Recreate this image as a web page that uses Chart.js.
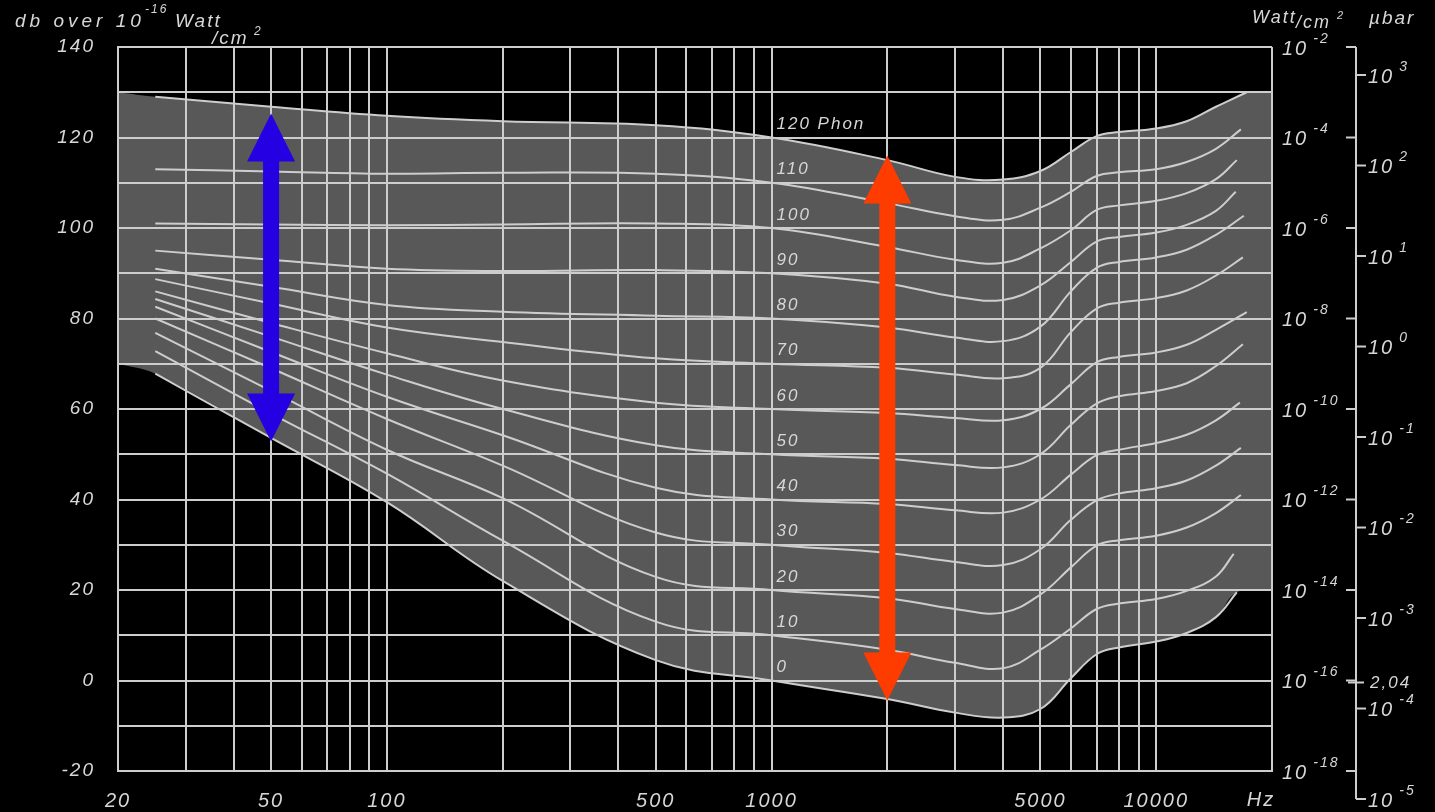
<!DOCTYPE html>
<html>
<head>
<meta charset="utf-8">
<script src="https://cdn.jsdelivr.net/npm/chart.js@4.4.0/dist/chart.umd.min.js"></script>
<style>
html,body{margin:0;padding:0;background:#000;overflow:hidden}
canvas{display:block}
</style>
</head>
<body>
<canvas id="phon_chart" width="1435" height="812"></canvas>
<script>
// loudness levels (phon) and the frequencies every curve was read at
const phons = [120,110,100,90,80,70,60,50,40,30,20,10,0];
const phonLabels = ['120 Phon','110','100','90','80','70','60','50','40','30','20','10','0'];
const freqs = [25,50,100,200,500,1000,2000,3000,4000,5000,6000,7000,8000,10000,12000,14300];

// sound level (dB) of each curve at the frequencies above
const phon120 = [129,126.8,124.8,123.6,122.7,120,115,111.3,110.7,112.6,116.8,120.3,121.2,122,123.6,126.8];
const phon110 = [113,112.5,112,112.2,112,110,105.5,102.6,101.8,104.5,108,111.5,112.3,113,114.6,117.5];
const phon100 = [101,100.8,100.6,100.8,101,100,95.8,93,92.3,95.5,99.5,104,105,106,107.7,110.8];
const phon90  = [95,93,91,90.5,90.7,90,87.7,84.8,84.1,87.3,92.5,97,98,99,100.7,103.8];
const phon80  = [91,87,83,81.5,80.6,80,78,75.8,75,78.2,86,91.2,92.5,93.5,95.2,98.5];
const phon70  = [88.7,83.3,78,74.8,71.2,70,69.1,67.6,66.8,69.1,77,82.2,83.5,84.5,86.2,89.5];
const phon60  = [86,79,72.3,66.3,61.4,60,59.1,58,57.5,60,65.5,70.3,71.5,72.5,74.2,77.5];
const phon50  = [84.3,76,67.6,60,52,50,49,47.6,47.1,50,56.5,61.2,62.8,64,65.7,69.5];
const phon40  = [82.6,72.6,62.7,54.2,42.6,40,39,37.6,37.1,40,45.5,49.8,51,52.5,54.3,57.5];
const phon30  = [80,69,57.8,47.5,32.7,30,28.2,26.2,25.5,29,35.5,39.8,41.3,42.5,44.2,47.5];
const phon20  = [76.8,64,51,40.3,22.9,20,18.2,15.8,15,19,25,29.8,31,32,33.8,37];
const phon10  = [72.8,59,45.7,30.9,13,10,6.8,3.9,2.7,6.8,11.5,15.8,17,18,19.8,23];
const phon0   = [67.8,53.6,39.4,22,4.5,0,-4.1,-7.1,-8.2,-6.3,0.5,5.8,7.3,8.6,10.5,14];
const levels = [phon120,phon110,phon100,phon90,phon80,phon70,phon60,phon50,phon40,phon30,phon20,phon10,phon0];

// where each curve stops on the right
const endFreq  = [17200,16600,16200,16100,16900,16800,17200,16800,16500,16600,16600,15900,16200];
const endLevel = [130,121.8,115,108,102.7,93.5,81.4,74.3,61.4,51.4,41,28,19.5];

// grey band: extra corner points outside the curves
const shadeTopLeft = [[20,130]];
const shadeTopRight = [[20000,130]];
const shadeBottomLeft = [[20,70]];
const shadeBottomRight = [[20000,20]];

// axes
const xGrid = [20,30,40,50,60,70,80,90,100,200,300,400,500,600,700,800,900,1000,2000,3000,4000,5000,6000,7000,8000,9000,10000,20000];
const xLabelValues = [20,50,100,500,1000,5000,10000];
const yGrid = [-20,-10,0,10,20,30,40,50,60,70,80,90,100,110,120,130,140];
const wattDb = [140,120,100,80,60,40,20,0,-20];
const wattExp = ['-2','-4','-6','-8','-10','-12','-14','-16','-18'];
const ubarValues = [1e3,1e2,1e1,1e0,1e-1,1e-2,1e-3,1e-4,1e-5];
const ubarExp = ['3','2','1','0','-1','-2','-3','-4','-5'];
const P_REF = 2.04e-4; // µbar at 0 dB

// arrows: frequency, top and bottom level
const arrowFreq = [50,2000];
const arrowTop = [125.3,116];
const arrowBottom = [52.8,-4.4];
const arrowColor = ['#2400e2','#ff3c00'];

const LINE = 'rgb(205,205,205)';
const TEXT = 'rgb(215,215,215)';
const FONT = '"Liberation Sans", "DejaVu Sans", sans-serif';
const TENSION = 0.4;

function toPoints(freqList, lvls) {
    return freqList.map((f,i) => ({x:f, y:lvls[i]}));
}
function pairs(list) {
    return list.map(p => ({x:p[0], y:p[1]}));
}

let datasets = phons.map((p,i) => ({
    label: phonLabels[i],
    data: toPoints(freqs, levels[i]).concat([{x:endFreq[i], y:endLevel[i]}]),
    borderColor: LINE,
    borderWidth: 2,
    pointRadius: 0,
    fill: false,
    tension: TENSION
}));
let topIdx = datasets.length;
datasets.push({
    label: 'shade-top',
    data: pairs(shadeTopLeft).concat(datasets[0].data).concat(pairs(shadeTopRight)),
    borderWidth: 0,
    borderColor: 'rgba(0,0,0,0)',
    backgroundColor: 'rgb(88,88,88)',
    pointRadius: 0,
    fill: topIdx + 1,
    tension: TENSION
});
datasets.push({
    label: 'shade-bottom',
    data: pairs(shadeBottomLeft).concat(datasets[12].data).concat(pairs(shadeBottomRight)),
    borderWidth: 0,
    borderColor: 'rgba(0,0,0,0)',
    pointRadius: 0,
    fill: false,
    tension: TENSION
});

function drawPow(ctx, exp, x, y, size) {
    ctx.textAlign = 'left';
    ctx.textBaseline = 'middle';
    ctx.font = `italic ${size}px ${FONT}`;
    ctx.fillText('10', x, y);
    let w = ctx.measureText('10').width;
    ctx.font = `italic ${Math.round(size*0.68)}px ${FONT}`;
    ctx.fillText(exp, x + w + 5, y - size*0.5);
}

function drawArrow(ctx, x, yTop, yBot, color) {
    let hw = 24, hl = 48, sw = 8;
    ctx.fillStyle = color;
    ctx.beginPath();
    ctx.moveTo(x, yTop);
    ctx.lineTo(x+hw, yTop+hl);
    ctx.lineTo(x+sw, yTop+hl);
    ctx.lineTo(x+sw, yBot-hl);
    ctx.lineTo(x+hw, yBot-hl);
    ctx.lineTo(x, yBot);
    ctx.lineTo(x-hw, yBot-hl);
    ctx.lineTo(x-sw, yBot-hl);
    ctx.lineTo(x-sw, yTop+hl);
    ctx.lineTo(x-hw, yTop+hl);
    ctx.closePath();
    ctx.fill();
}

const decor = {
    id: 'decor',
    beforeDraw(chart) {
        chart.ctx.letterSpacing = '2px';
    },
    afterDraw(chart) {
        let ctx = chart.ctx;
        let xs = chart.scales.x, ys = chart.scales.y;
        let area = chart.chartArea;
        ctx.save();
        ctx.letterSpacing = '2px';
        ctx.fillStyle = TEXT;
        ctx.strokeStyle = LINE;
        ctx.lineWidth = 2;

        // phon labels just right of 1000 Hz
        ctx.textAlign = 'left';
        ctx.textBaseline = 'middle';
        ctx.font = `italic 17px ${FONT}`;
        phons.forEach((p,i) => {
            ctx.fillText(phonLabels[i], xs.getPixelForValue(1000) + 5, ys.getPixelForValue(p) - 13);
        });

        // Watt/cm2 scale
        let axisX = area.right + 84;
        wattDb.forEach((d,i) => {
            let y = ys.getPixelForValue(d);
            ctx.fillStyle = TEXT;
            drawPow(ctx, wattExp[i], area.right + 10, y + 2, 20);
            ctx.beginPath();
            ctx.moveTo(axisX - 10, y);
            ctx.lineTo(axisX, y);
            ctx.stroke();
        });

        // µbar scale
        let pDb = p => 20*Math.log10(p/P_REF);
        let yLow = ys.getPixelForValue(pDb(ubarValues[ubarValues.length-1]));
        ctx.beginPath();
        ctx.moveTo(axisX, area.top);
        ctx.lineTo(axisX, yLow);
        ctx.stroke();
        ubarValues.forEach((p,i) => {
            let y = ys.getPixelForValue(pDb(p));
            ctx.beginPath();
            ctx.moveTo(axisX, y);
            ctx.lineTo(axisX + 10, y);
            ctx.stroke();
            drawPow(ctx, ubarExp[i], axisX + 12, y + 2, 20);
        });
        let yRef = ys.getPixelForValue(0);
        ctx.beginPath();
        ctx.moveTo(axisX - 8, yRef + 2);
        ctx.lineTo(axisX + 8, yRef + 2);
        ctx.stroke();
        ctx.font = `italic 17px ${FONT}`;
        ctx.textAlign = 'left';
        ctx.fillText('2,04', axisX + 14, yRef + 3);

        // headings
        ctx.font = `italic 19px ${FONT}`;
        ctx.letterSpacing = '4px';
        ctx.fillText('db over 10', 15, 22);
        ctx.letterSpacing = '2px';
        ctx.font = `italic 12px ${FONT}`;
        ctx.fillText('-16', 145, 10);
        ctx.font = `italic 19px ${FONT}`;
        ctx.fillText('Watt', 175, 22);
        ctx.fillText('/cm', 212, 39);
        ctx.font = `italic 12px ${FONT}`;
        ctx.fillText('2', 254, 32);

        ctx.font = `italic 18px ${FONT}`;
        ctx.fillText('Watt', 1252, 18);
        ctx.fillText('/cm', 1296, 23);
        ctx.font = `italic 11px ${FONT}`;
        ctx.fillText('2', 1337, 16);
        ctx.font = `italic 19px ${FONT}`;
        ctx.fillText('µbar', 1369, 19);

        ctx.textAlign = 'center';
        ctx.font = `italic 20px ${FONT}`;
        ctx.fillText('Hz', xs.getPixelForValue(20000) - 11, 800);

        // arrows
        arrowFreq.forEach((f,i) => {
            drawArrow(ctx, xs.getPixelForValue(f), ys.getPixelForValue(arrowTop[i]),
                ys.getPixelForValue(arrowBottom[i]), arrowColor[i]);
        });
        ctx.restore();
    }
};

new Chart('phon_chart', {
    type: 'line',
    data: { datasets: datasets },
    plugins: [decor],
    options: {
        responsive: false,
        animation: false,
        devicePixelRatio: 1,
        layout: { padding: { top: 47, right: 163, left: 0, bottom: 0 } },
        plugins: {
            legend: { display: false },
            tooltip: { enabled: false },
            filler: { drawTime: 'beforeDatasetsDraw' }
        },
        scales: {
            x: {
                type: 'logarithmic',
                min: 20,
                max: 20000,
                afterBuildTicks: axis => { axis.ticks = xGrid.map(v => ({value: v})); },
                afterFit: axis => { axis.height = 41; },
                grid: { color: LINE, lineWidth: 2, drawTicks: false, z: 1 },
                border: { color: LINE, width: 2, z: 1 },
                ticks: {
                    autoSkip: false,
                    maxRotation: 0,
                    padding: 18,
                    color: TEXT,
                    font: { family: FONT, style: 'italic', size: 20 },
                    callback: v => xLabelValues.includes(v) ? String(v) : ''
                }
            },
            y: {
                min: -20,
                max: 140,
                afterBuildTicks: axis => { axis.ticks = yGrid.map(v => ({value: v})); },
                afterFit: axis => { axis.width = 118; },
                grid: { color: LINE, lineWidth: 2, drawTicks: false, z: 1 },
                border: { color: LINE, width: 2, z: 1 },
                ticks: {
                    padding: 23,
                    color: TEXT,
                    font: { family: FONT, style: 'italic', size: 19 },
                    callback: v => v % 20 === 0 ? String(v) : ''
                }
            }
        }
    }
});
</script>
</body>
</html>
